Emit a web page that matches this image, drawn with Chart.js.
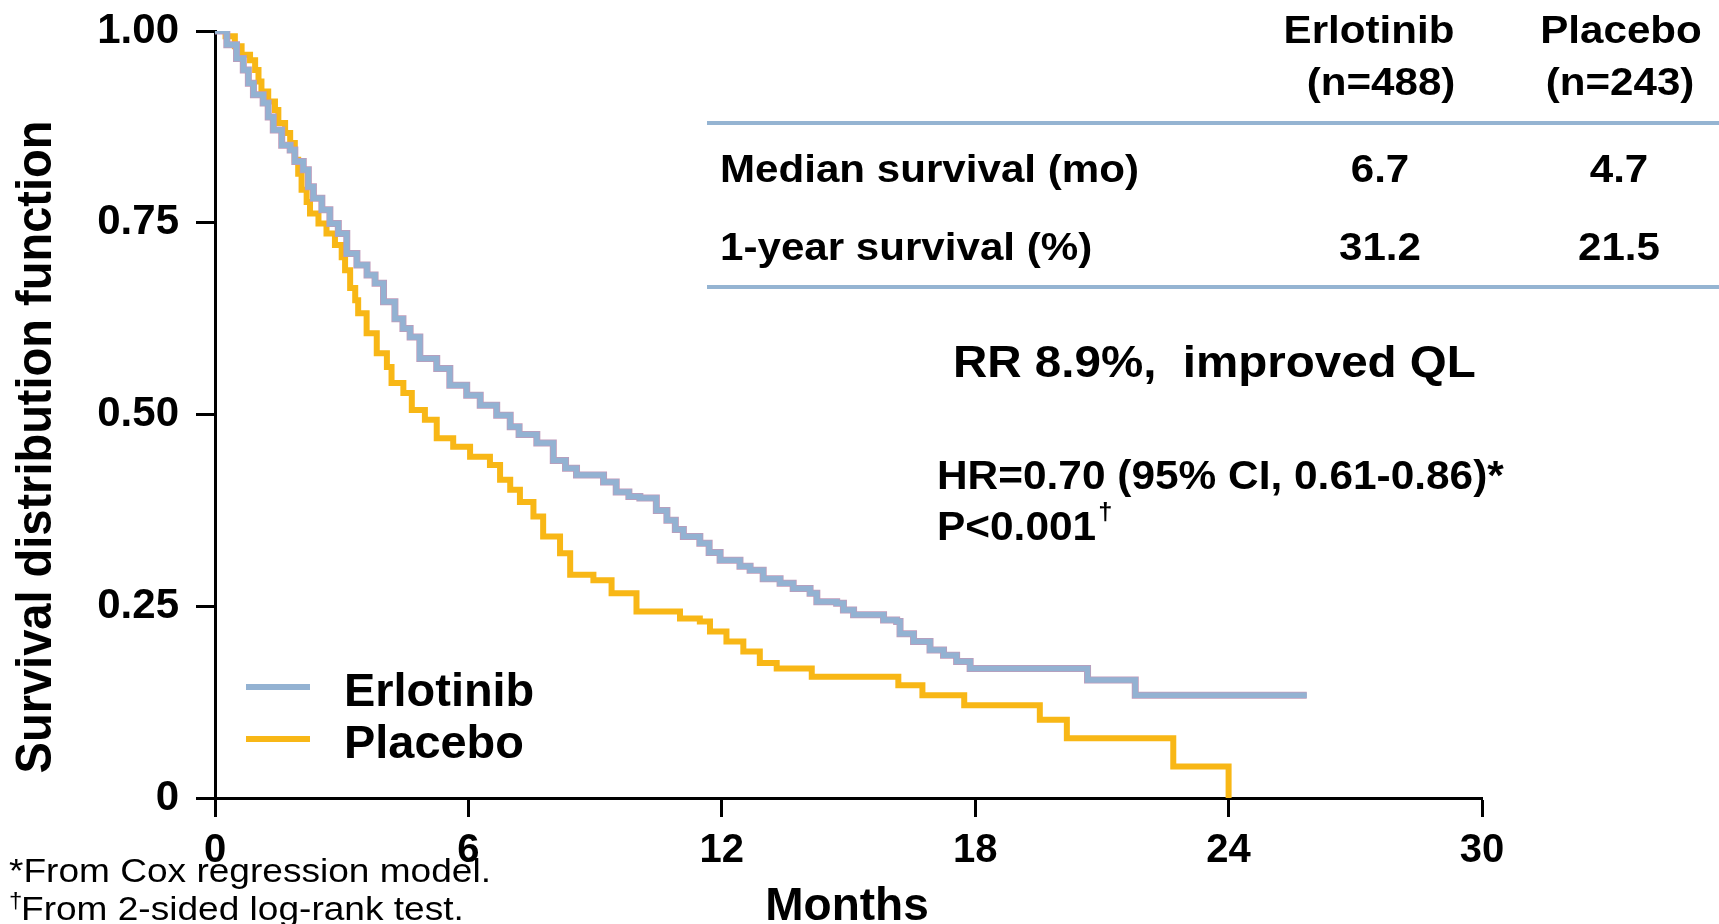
<!DOCTYPE html>
<html>
<head>
<meta charset="utf-8">
<title>Overall survival: Erlotinib vs Placebo</title>
<script src="https://cdn.jsdelivr.net/npm/chart.js@4.4.1/dist/chart.umd.min.js"></script>
<style>
    html, body { margin: 0; padding: 0; background: #fff; overflow: hidden; }
    canvas { display: block; }
</style>
</head>
<body>
<canvas id="survivalChart" width="1719" height="924"></canvas>
<script>
// Kaplan-Meier data (month of each drop, survival after it)
const erlotinibMonths = [0, 0.28, 0.51, 0.67, 0.79, 0.91, 1.14, 1.26, 1.38, 1.58, 1.78, 1.89,
    2.09, 2.21, 2.33, 2.53, 2.72, 2.92, 3.12, 3.36, 3.6, 3.79, 3.99, 4.26, 4.45, 4.62, 4.85,
    5.25, 5.56, 5.96, 6.28, 6.67, 6.99, 7.2, 7.62, 8.01, 8.3, 8.56, 9.2, 9.5, 9.8, 10.06,
    10.45, 10.7, 10.9, 11.09, 11.48, 11.7, 11.96, 12.43, 12.67, 12.98, 13.38, 13.69, 14.09,
    14.25, 14.72, 14.88, 15.12, 15.83, 16.14, 16.22, 16.54, 16.93, 17.25, 17.56, 17.88,
    20.66, 21.79, 25.85];
const erlotinibSurvival = [1.0, 0.982, 0.964, 0.949, 0.932, 0.917, 0.906, 0.888, 0.871, 0.851, 0.845, 0.830,
    0.819, 0.797, 0.782, 0.767, 0.749, 0.736, 0.710, 0.695, 0.682, 0.671, 0.647, 0.625, 0.612, 0.601, 0.573,
    0.560, 0.538, 0.525, 0.512, 0.499, 0.484, 0.474, 0.463, 0.440, 0.430, 0.421, 0.412, 0.399, 0.393, 0.391,
    0.375, 0.362, 0.350, 0.341, 0.332, 0.320, 0.310, 0.302, 0.297, 0.286, 0.280, 0.273, 0.267,
    0.256, 0.254, 0.245, 0.239, 0.232, 0.230, 0.214, 0.204, 0.193, 0.186, 0.178, 0.169,
    0.154, 0.134, 0.134];

const placeboMonths = [0, 0.25, 0.47, 0.63, 0.83, 0.95, 1.03, 1.1, 1.26, 1.42, 1.5, 1.66, 1.78, 1.89, 1.97,
    2.05, 2.17, 2.25, 2.45, 2.64, 2.84, 3.0, 3.08, 3.2, 3.32, 3.39, 3.59, 3.83, 4.07, 4.18, 4.46, 4.66,
    4.97, 5.25, 5.64, 6.04, 6.51, 6.75, 6.99, 7.22, 7.54, 7.77, 8.17, 8.41, 8.96, 9.39, 9.98, 11.01,
    11.48, 11.72, 12.11, 12.51, 12.9, 13.3, 14.13, 16.18, 16.75, 17.74, 19.53, 20.17, 22.69, 24.0];
const placeboSurvival = [1.0, 0.993, 0.980, 0.969, 0.962, 0.949, 0.934, 0.921, 0.908, 0.897, 0.880, 0.867, 0.854, 0.832, 0.814,
    0.793, 0.777, 0.762, 0.749, 0.736, 0.721, 0.705, 0.688, 0.665, 0.649, 0.632, 0.606, 0.580, 0.562, 0.541, 0.528, 0.506,
    0.493, 0.469, 0.458, 0.445, 0.434, 0.415, 0.402, 0.386, 0.367, 0.341, 0.319, 0.291, 0.284, 0.267, 0.243, 0.234,
    0.230, 0.217, 0.204, 0.191, 0.176, 0.169, 0.158, 0.147, 0.134, 0.121, 0.102, 0.078, 0.041, 0];

const seriesNames = ['Erlotinib', 'Placebo'];

// axis ticks
const xTickValues = [0, 6, 12, 18, 24, 30];
const yTickValues = [0, 0.25, 0.5, 0.75, 1];
const yTickLabels = ['0', '0.25', '0.50', '0.75', '1.00'];

// summary table and notes
const tableHeads = ['Erlotinib', 'Placebo'];
const tableCounts = ['(n=488)', '(n=243)'];
const tableRowLabels = ['Median survival (mo)', '1-year survival (%)'];
const erlotinibStats = ['6.7', '31.2'];
const placeboStats = ['4.7', '21.5'];
const responseNote = 'RR 8.9%,  improved QL';
const hazardNote = 'HR=0.70 (95% CI, 0.61-0.86)*';
const pValueNote = 'P<0.001';
const footnotes = ['*From Cox regression model.', 'From 2-sided log-rank test.'];

const FONT = '"Liberation Sans", Arial, sans-serif';
const BLUE = '#93b2d2';
const ORANGE = '#f8b716';

function toPoints(months, survival) {
    return months.map((m, i) => ({ x: m, y: survival[i] }));
}

// text helper: optional horizontal stretch and rotation
function drawText(ctx, text, x, y, size, weight, align, sx, angle) {
    ctx.save();
    ctx.translate(x, y);
    ctx.scale(sx || 1, 1);
    if (angle) ctx.rotate(angle);
    ctx.font = weight + ' ' + size + 'px ' + FONT;
    ctx.fillStyle = '#000';
    ctx.textAlign = align;
    ctx.textBaseline = 'alphabetic';
    ctx.fillText(text, 0, 0);
    ctx.restore();
}

const annotationPlugin = {
    id: 'annotations',
    afterDraw(chart) {
        const ctx = chart.ctx;

        // table rules
        ctx.save();
        ctx.strokeStyle = '#95b4d2';
        ctx.lineWidth = 4;
        [123, 287].forEach(y => {
            ctx.beginPath();
            ctx.moveTo(707, y);
            ctx.lineTo(1719, y);
            ctx.stroke();
        });
        ctx.restore();

        // table header
        drawText(ctx, tableHeads[0], 1369, 43, 39, 'bold', 'center', 1.08);
        drawText(ctx, tableHeads[1], 1621, 43, 39, 'bold', 'center', 1.08);
        drawText(ctx, tableCounts[0], 1381, 95, 39, 'bold', 'center', 1.08);
        drawText(ctx, tableCounts[1], 1620, 95, 39, 'bold', 'center', 1.08);

        // table rows
        const rowBase = [182, 260];
        tableRowLabels.forEach((label, i) => {
            drawText(ctx, label, 720, rowBase[i], 39, 'bold', 'left', 1.08);
            drawText(ctx, erlotinibStats[i], 1380, rowBase[i], 39, 'bold', 'center', 1.08);
            drawText(ctx, placeboStats[i], 1619, rowBase[i], 39, 'bold', 'center', 1.08);
        });

        drawText(ctx, responseNote, 953, 377, 44, 'bold', 'left', 1.08);
        drawText(ctx, hazardNote, 937, 489, 40, 'bold', 'left', 1.06);
        drawText(ctx, pValueNote, 937, 540, 40, 'bold', 'left', 1.06);
        ctx.save();
        ctx.font = 'bold 40px ' + FONT;
        const pw = ctx.measureText(pValueNote).width * 1.06;
        ctx.restore();
        drawText(ctx, '\u2020', 937 + pw + 2, 520, 24, 'bold', 'left', 1.06);

        // legend
        chart.data.datasets.filter(d => d.showInLegend).forEach((d, i) => {
            const y = 687 + i * 52;
            ctx.save();
            ctx.strokeStyle = d.borderColor;
            ctx.lineWidth = 6;
            ctx.beginPath();
            ctx.moveTo(246, y);
            ctx.lineTo(310, y);
            ctx.stroke();
            ctx.restore();
            drawText(ctx, d.label, 344, y + 19, 46, 'bold', 'left', 1.02);
        });

        // axis titles
        drawText(ctx, 'Survival distribution function', 51, 447, 47, 'bold', 'center', 1.07, -Math.PI / 2);
        drawText(ctx, 'Months', 847, 920, 46, 'bold', 'center', 1.0);

        // footnotes
        drawText(ctx, footnotes[0], 9, 882, 34, 'normal', 'left', 1.09);
        drawText(ctx, '\u2020', 9, 908, 22, 'normal', 'left', 1.09);
        drawText(ctx, footnotes[1], 21, 920, 34, 'normal', 'left', 1.09);
    }
};

function createSurvivalChart() {
    const ctx = document.getElementById('survivalChart');

    new Chart(ctx, {
        type: 'line',
        data: {
            datasets: [
                {
                    label: seriesNames[0],
                    data: toPoints(erlotinibMonths, erlotinibSurvival),
                    borderColor: BLUE,
                    borderWidth: 5.5,
                    stepped: true,
                    pointRadius: 0,
                    showInLegend: true
                },
                {
                    // thin mauve edge under the blue curve
                    label: seriesNames[0] + ' edge',
                    data: toPoints(erlotinibMonths, erlotinibSurvival),
                    borderColor: '#c09ab9',
                    borderWidth: 7,
                    stepped: true,
                    pointRadius: 0,
                    showInLegend: false
                },
                {
                    label: seriesNames[1],
                    data: toPoints(placeboMonths, placeboSurvival),
                    borderColor: ORANGE,
                    borderWidth: 6,
                    stepped: true,
                    pointRadius: 0,
                    showInLegend: true
                }
            ]
        },
        options: {
            responsive: false,
            animation: false,
            layout: {
                padding: { top: 31, right: 237, left: 0, bottom: 0 }
            },
            plugins: {
                legend: { display: false },
                tooltip: { enabled: false }
            },
            scales: {
                x: {
                    type: 'linear',
                    min: 0,
                    max: 30,
                    afterBuildTicks: scale => {
                        scale.ticks = xTickValues.map(v => ({ value: v }));
                    },
                    afterFit: scale => {
                        scale.height = 126;
                        scale.paddingLeft = 0;
                        scale.paddingRight = 0;
                    },
                    ticks: {
                        autoSkip: false,
                        maxRotation: 0,
                        padding: 10,
                        color: '#000',
                        font: { family: FONT, size: 40, weight: 'bold' }
                    },
                    grid: {
                        drawOnChartArea: false,
                        drawTicks: true,
                        tickLength: 19,
                        tickWidth: 3,
                        tickColor: '#000'
                    },
                    border: { display: true, color: '#000', width: 3 }
                },
                y: {
                    type: 'linear',
                    min: 0,
                    max: 1,
                    afterBuildTicks: scale => {
                        scale.ticks = yTickValues.map(v => ({ value: v }));
                    },
                    afterFit: scale => {
                        scale.width = 215;
                        scale.paddingTop = 0;
                        scale.paddingBottom = 0;
                    },
                    ticks: {
                        padding: 17,
                        color: '#000',
                        font: { family: FONT, size: 42, weight: 'bold' },
                        callback: function(value) {
                            const i = yTickValues.indexOf(value);
                            return i >= 0 ? yTickLabels[i] : '';
                        }
                    },
                    grid: {
                        drawOnChartArea: false,
                        drawTicks: true,
                        tickLength: 19,
                        tickWidth: 3,
                        tickColor: '#000'
                    },
                    border: { display: true, color: '#000', width: 3 }
                }
            }
        },
        plugins: [annotationPlugin]
    });
}

createSurvivalChart();
</script>
</body>
</html>
